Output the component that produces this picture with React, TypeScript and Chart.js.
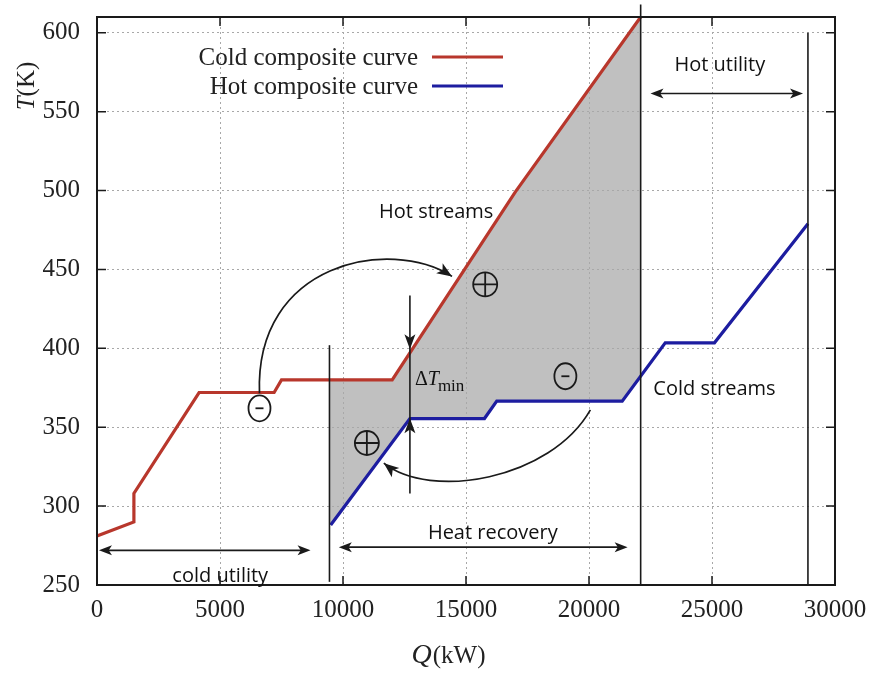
import React, { useEffect, useRef } from "react";
import { Chart, registerables } from "chart.js";

Chart.register(...registerables);

// ---- data (Q in kW, T in K) ----
const coldQ = [0, 1500, 1500, 4150, 7200, 7500, 12000, 17000, 22100];
const coldT = [281, 290, 308, 372, 372, 380, 380, 499, 610];

const hotQ = [9500, 12720, 15750, 16250, 21350, 23100, 25100, 28900];
const hotT = [288, 355.5, 355.5, 366.5, 366.5, 403.5, 403.5, 479];

const xTicks = [0, 5000, 10000, 15000, 20000, 25000, 30000];
const yTicks = [250, 300, 350, 400, 450, 500, 550, 600];

const pinchLeftQ = 9450;
const pinchLeftT = [252, 402];
const pinchRightQ = 22100;
const pinchRightT = [250, 618];
const utilityEndQ = 28900;
const utilityEndT = [250, 600];
const dTminQ = 12720;
const dTminT = [308, 433.5];
const dTminTips = [399.4, 355.7];

const legendLabels = ["Cold composite curve", "Hot composite curve"];
const textLabels = [
  { text: "Hot streams", q: 13790, t: 486 },
  { text: "Cold streams", q: 25100, t: 374 },
  { text: "Hot utility", q: 25320, t: 579.7 },
  { text: "Heat recovery", q: 16090, t: 283 },
  { text: "cold utility", q: 5010, t: 255.7 },
];
const doubleArrows = [
  { q1: 22500, q2: 28700, t: 561.5 },
  { q1: 9830, q2: 21570, t: 274 },
  { q1: 80, q2: 8680, t: 272 },
];
const circles = [
  { q: 15780, t: 440.5, sign: "+" },
  { q: 6605, t: 362, sign: "-" },
  { q: 10970, t: 340, sign: "+" },
  { q: 19040, t: 382.3, sign: "-" },
];
const curveArrows = [
  [
    [6605, 371.5],
    [6400, 454.4],
    [11905, 470.9],
    [14432, 445.6],
  ],
  [
    [20056, 361],
    [18428, 316.5],
    [13536, 303.8],
    [11660, 327.2],
  ],
];

const RED = "#b8372c";
const BLUE = "#1d1da0";
const INK = "#1a1a1a";
const SERIF = '"Liberation Serif", "Times New Roman", serif';
const SANS = '"Open Sans", sans-serif';

function interp(qs: number[], ts: number[], q: number) {
  if (q <= qs[0]) return ts[0];
  for (let i = 1; i < qs.length; i++) {
    if (q <= qs[i]) {
      const d = qs[i] - qs[i - 1];
      if (d === 0) return ts[i];
      return ts[i - 1] + ((ts[i] - ts[i - 1]) * (q - qs[i - 1])) / d;
    }
  }
  return ts[ts.length - 1];
}

function arrowHead(ctx: CanvasRenderingContext2D, x: number, y: number, ang: number, len = 13, half = 5) {
  ctx.save();
  ctx.translate(x, y);
  ctx.rotate(ang);
  ctx.beginPath();
  ctx.moveTo(0, 0);
  ctx.lineTo(-len, -half);
  ctx.lineTo(-len * 0.75, 0);
  ctx.lineTo(-len, half);
  ctx.closePath();
  ctx.fill();
  ctx.restore();
}

const overlay = {
  id: "overlay",
  beforeDraw(chart: any) {
    const ctx = chart.ctx as CanvasRenderingContext2D;
    const xs = chart.scales.x;
    const ys = chart.scales.y;
    const px = (q: number) => xs.getPixelForValue(q);
    const py = (t: number) => ys.getPixelForValue(t);
    const pts: [number, number][] = [];
    pts.push([pinchLeftQ, interp(coldQ, coldT, pinchLeftQ)]);
    pts.push([pinchLeftQ, hotT[0]]);
    hotQ.forEach((q, i) => {
      if (q > pinchLeftQ && q < pinchRightQ) pts.push([q, hotT[i]]);
    });
    pts.push([pinchRightQ, interp(hotQ, hotT, pinchRightQ)]);
    pts.push([pinchRightQ, interp(coldQ, coldT, pinchRightQ)]);
    for (let i = coldQ.length - 1; i >= 0; i--) {
      if (coldQ[i] > pinchLeftQ && coldQ[i] < pinchRightQ) pts.push([coldQ[i], coldT[i]]);
    }
    ctx.save();
    ctx.fillStyle = "#c0c0c0";
    ctx.beginPath();
    pts.forEach(([q, t], i) => (i ? ctx.lineTo(px(q), py(t)) : ctx.moveTo(px(q), py(t))));
    ctx.closePath();
    ctx.fill();
    ctx.restore();
  },
  afterDraw(chart: any) {
    const ctx = chart.ctx as CanvasRenderingContext2D;
    const xs = chart.scales.x;
    const ys = chart.scales.y;
    const area = chart.chartArea;
    const px = (q: number) => xs.getPixelForValue(q);
    const py = (t: number) => ys.getPixelForValue(t);
    ctx.save();
    ctx.strokeStyle = INK;
    ctx.lineWidth = 2;
    ctx.strokeRect(area.left, area.top, area.right - area.left, area.bottom - area.top);
    ctx.lineWidth = 1.5;
    const tl = 9;
    xTicks.forEach((v) => {
      const x = px(v);
      ctx.beginPath();
      ctx.moveTo(x, area.bottom);
      ctx.lineTo(x, area.bottom - tl);
      ctx.moveTo(x, area.top);
      ctx.lineTo(x, area.top + tl);
      ctx.stroke();
    });
    yTicks.forEach((v) => {
      const y = py(v);
      ctx.beginPath();
      ctx.moveTo(area.left, y);
      ctx.lineTo(area.left + tl, y);
      ctx.moveTo(area.right, y);
      ctx.lineTo(area.right - tl, y);
      ctx.stroke();
    });

    ctx.fillStyle = INK;
    ctx.strokeStyle = INK;
    ctx.lineWidth = 1.7;
    doubleArrows.forEach((a) => {
      const x1 = px(a.q1), x2 = px(a.q2), y = py(a.t);
      ctx.beginPath();
      ctx.moveTo(x1 + 6, y);
      ctx.lineTo(x2 - 6, y);
      ctx.stroke();
      arrowHead(ctx, x2, y, 0);
      arrowHead(ctx, x1, y, Math.PI);
    });
    curveArrows.forEach((c) => {
      const p = c.map(([q, t]) => [px(q), py(t)]);
      ctx.beginPath();
      ctx.moveTo(p[0][0], p[0][1]);
      ctx.bezierCurveTo(p[1][0], p[1][1], p[2][0], p[2][1], p[3][0], p[3][1]);
      ctx.stroke();
      const ang = Math.atan2(p[3][1] - p[2][1], p[3][0] - p[2][0]);
      arrowHead(ctx, p[3][0], p[3][1], ang, 15, 6);
    });
    arrowHead(ctx, px(dTminQ), py(dTminTips[0]), Math.PI / 2, 15, 5.5);
    arrowHead(ctx, px(dTminQ), py(dTminTips[1]), -Math.PI / 2, 15, 5.5);
    ctx.lineWidth = 1.8;
    circles.forEach((c) => {
      const x = px(c.q), y = py(c.t);
      const r = 12;
      ctx.beginPath();
      if (c.sign === "-") ctx.ellipse(x, y, 11, 13, 0, 0, Math.PI * 2);
      else ctx.arc(x, y, r, 0, Math.PI * 2);
      ctx.stroke();
      ctx.beginPath();
      if (c.sign === "+") {
        ctx.moveTo(x - r, y);
        ctx.lineTo(x + r, y);
        ctx.moveTo(x, y - r);
        ctx.lineTo(x, y + r);
      } else {
        ctx.moveTo(x - 4, y);
        ctx.lineTo(x + 4, y);
      }
      ctx.stroke();
    });
    ctx.font = `20px ${SANS}`;
    ctx.textAlign = "center";
    ctx.textBaseline = "middle";
    ctx.fillStyle = "#111";
    textLabels.forEach((l) => ctx.fillText(l.text, px(l.q), py(l.t)));
    {
      const x0 = px(dTminQ) + 5;
      const yb = py(376.6);
      ctx.textAlign = "left";
      ctx.textBaseline = "alphabetic";
      ctx.font = `20px ${SERIF}`;
      ctx.fillText("\u0394", x0, yb);
      let x = x0 + ctx.measureText("\u0394").width;
      ctx.font = `italic 20px ${SERIF}`;
      ctx.fillText("T", x, yb);
      x += ctx.measureText("T").width;
      ctx.font = `17px ${SERIF}`;
      ctx.fillText("min", x - 1, yb + 6);
    }
    ctx.font = `25px ${SERIF}`;
    ctx.textAlign = "right";
    ctx.textBaseline = "middle";
    const legX = area.left + 321;
    const legY = [area.top + 41, area.top + 70];
    const legColors = [RED, BLUE];
    legendLabels.forEach((lab, i) => {
      ctx.fillStyle = "#222";
      ctx.fillText(lab, legX, legY[i]);
      ctx.strokeStyle = legColors[i];
      ctx.lineWidth = 3;
      ctx.beginPath();
      ctx.moveTo(legX + 14, legY[i] - 1);
      ctx.lineTo(legX + 85, legY[i] - 1);
      ctx.stroke();
    });
    ctx.save();
    ctx.translate(27, area.top + 69);
    ctx.rotate(-Math.PI / 2);
    ctx.fillStyle = "#222";
    ctx.textBaseline = "middle";
    ctx.textAlign = "left";
    ctx.font = `italic 25px ${SERIF}`;
    const wT = ctx.measureText("T").width;
    ctx.font = `25px ${SERIF}`;
    const wK = ctx.measureText("(K)").width;
    const sx = -(wT + wK) / 2;
    ctx.font = `italic 25px ${SERIF}`;
    ctx.fillText("T", sx, 0);
    ctx.font = `25px ${SERIF}`;
    ctx.fillText("(K)", sx + wT, 0);
    ctx.restore();
    {
      ctx.fillStyle = "#222";
      ctx.textAlign = "left";
      ctx.textBaseline = "alphabetic";
      ctx.font = `italic 28px ${SERIF}`;
      const wQ = ctx.measureText("Q").width;
      ctx.font = `25px ${SERIF}`;
      const wkw = ctx.measureText("(kW)").width;
      const cx = (area.left + area.right) / 2 - 18;
      const sx2 = cx - (wQ + wkw) / 2;
      const yb = area.bottom + 78;
      ctx.font = `italic 28px ${SERIF}`;
      ctx.fillText("Q", sx2, yb);
      ctx.font = `25px ${SERIF}`;
      ctx.fillText("(kW)", sx2 + wQ + 1, yb);
    }
    ctx.restore();
  },
};

export default function App() {
  const ref = useRef<HTMLCanvasElement | null>(null);
  useEffect(() => {
    if (!ref.current) return;
    const toPts = (qs: number[], ts: number[]) => qs.map((q, i) => ({ x: q, y: ts[i] }));
    const vline = (q: number, ts: number[]) => ts.map((t) => ({ x: q, y: t }));
    const lineDs = (data: any[], color: string, width: number, extra: any = {}) => ({
      data,
      showLine: true,
      borderColor: color,
      backgroundColor: color,
      borderWidth: width,
      pointRadius: 0,
      fill: false,
      tension: 0,
      ...extra,
    });
    const chart = new Chart(ref.current, {
      type: "scatter",
      data: {
        datasets: [
          lineDs(vline(pinchLeftQ, pinchLeftT), INK, 1.6),
          lineDs(vline(pinchRightQ, pinchRightT), INK, 1.6, { clip: false }),
          lineDs(vline(utilityEndQ, utilityEndT), INK, 1.6),
          lineDs(vline(dTminQ, dTminT), INK, 1.6),
          lineDs(toPts(coldQ, coldT), RED, 3.2),
          lineDs(toPts(hotQ, hotT), BLUE, 3.2),
        ],
      },
      options: {
        animation: false,
        responsive: false,
        maintainAspectRatio: false,
        layout: { padding: { top: 17, right: 36, left: 0, bottom: 0 } },
        plugins: { legend: { display: false }, tooltip: { enabled: false } },
        scales: {
          x: {
            type: "linear",
            min: 0,
            max: 30000,
            afterBuildTicks: (s: any) => {
              s.ticks = xTicks.map((v) => ({ value: v }));
            },
            afterFit: (s: any) => {
              s.height = 88;
            },
            ticks: {
              font: { family: SERIF, size: 25 },
              color: "#222",
              padding: 0,
              maxRotation: 0,
              autoSkip: false,
              callback: (v: any) => String(v),
            },
            grid: {
              color: "#a8a8a8",
              lineWidth: 1,
              drawTicks: true,
              tickLength: 10,
              tickColor: "rgba(0,0,0,0)",
            },
            border: { display: false, dash: [2, 3] },
          },
          y: {
            type: "linear",
            min: 250,
            max: 610,
            afterBuildTicks: (s: any) => {
              s.ticks = yTicks.map((v) => ({ value: v }));
            },
            afterFit: (s: any) => {
              s.width = 97;
            },
            ticks: {
              font: { family: SERIF, size: 25 },
              color: "#222",
              padding: 0,
              autoSkip: false,
              callback: (v: any) => String(v),
            },
            grid: {
              color: "#a8a8a8",
              lineWidth: 1,
              drawTicks: true,
              tickLength: 17,
              tickColor: "rgba(0,0,0,0)",
            },
            border: { display: false, dash: [2, 3] },
          },
        },
      } as any,
      plugins: [overlay],
    });
    return () => chart.destroy();
  }, []);
  return (
    <div style={{ position: "fixed", left: 0, top: 0, width: 871, height: 673, background: "#fff" }}>
      <canvas ref={ref} width={871} height={673} style={{ display: "block", width: 871, height: 673 }} />
    </div>
  );
}
